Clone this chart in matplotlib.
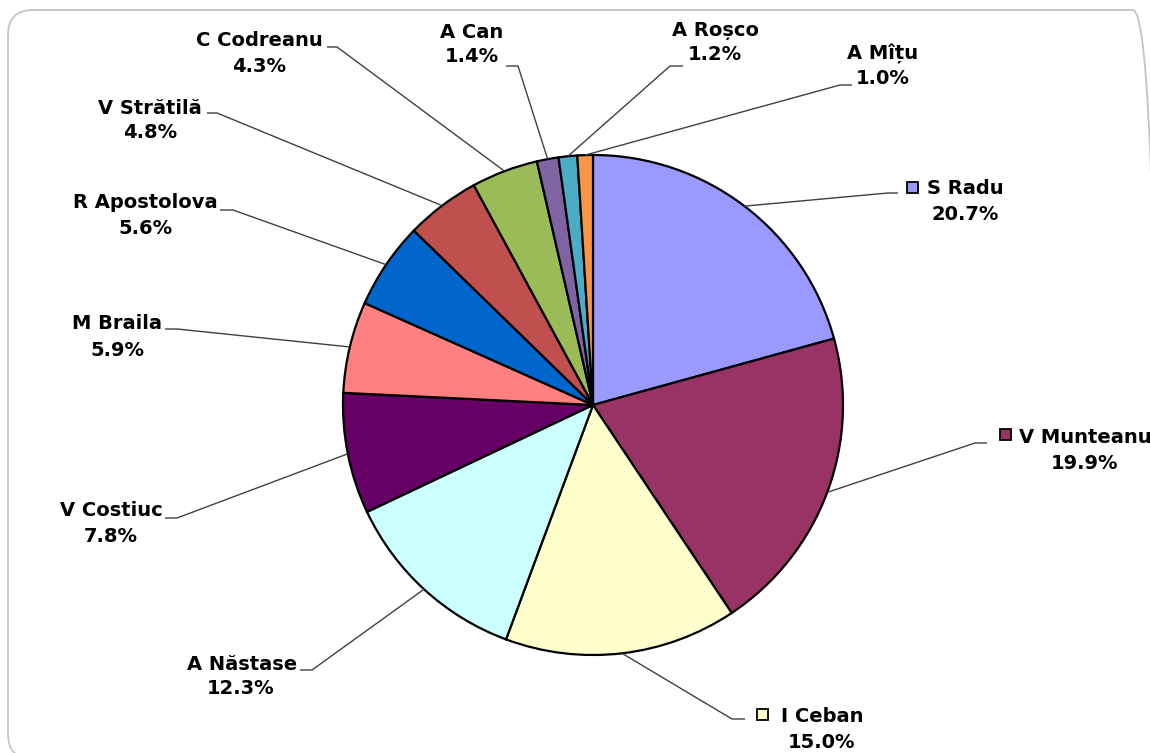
import matplotlib.pyplot as plt
import numpy as np
from matplotlib.patches import FancyBboxPatch, Rectangle

# data
names = ["S Radu", "V Munteanu", "I Ceban", "A Năstase", "V Costiuc", "M Braila",
         "R Apostolova", "V Strătilă", "C Codreanu", "A Can", "A Roșco", "A Mîțu"]
shares = [20.7, 19.9, 15.0, 12.3, 7.8, 5.9, 5.6, 4.8, 4.3, 1.4, 1.2, 1.0]
colors = ["#9999FF", "#993366", "#FFFFCC", "#CCFFFF", "#660066", "#FF8080",
          "#0066CC", "#C0504D", "#9BBB59", "#8064A2", "#4BACC6", "#F79646"]

# layout, in pixels from the top-left of the picture
W, H = 1150, 753
CX, CY, R = 593, 405, 250
name_pos = [(965, 188), (1085, 437), (822, 716), (242, 665), (111, 511), (117, 323),
            (145, 202), (150, 108), (259, 40), (472, 32), (715, 30), (883, 53)]
pct_pos = [(965, 214), (1085, 463), (822, 742), (241, 689), (111, 537), (117, 350),
           (146, 228), (150, 133), (259, 67), (472, 57), (715, 55), (883, 79)]
key_pos = {"S Radu": (912, 187), "V Munteanu": (1005, 434), "I Ceban": (762, 714)}
# (end near label, elbow x, y)
leader = [(898, 888, 193), (987, 975, 443), (745, 732, 719), (300, 312, 670),
          (165, 177, 518), (165, 177, 329), (220, 233, 210), (207, 217, 113),
          (327, 337, 47), (506, 518, 66), (683, 670, 66), (852, 840, 85)]


def px(x, y):
    return (x - CX) / R, (CY - y) / R


fig = plt.figure(figsize=(W / 100, H / 100), dpi=100)
ax = fig.add_axes([0, 0, 1, 1])

wedges, _ = ax.pie(shares, colors=colors, startangle=90, counterclock=False,
                   radius=1, center=(0, 0),
                   wedgeprops=dict(edgecolor="black", linewidth=1.6))
ax.set_xlim(-CX / R, (W - CX) / R)
ax.set_ylim(-(H - CY) / R, CY / R)
ax.set_aspect("equal")
ax.axis("off")

# chart frame (runs off the right and bottom of the picture)
x0, y0 = px(8, 10)
x1, y1 = px(1158, 759)
ax.add_patch(FancyBboxPatch((x0, y1), x1 - x0, y0 - y1,
                            boxstyle="round,pad=0,rounding_size=0.1",
                            fc="none", ec="#c4c4c4", lw=1.3, clip_on=False, zorder=0))

font = dict(fontsize=14, fontweight="bold", family="DejaVu Sans", color="black")
for i, w in enumerate(wedges):
    ang = np.deg2rad((w.theta1 + w.theta2) / 2)
    ax_, ay_ = np.cos(ang), np.sin(ang)
    ex, elx, ey = leader[i]
    p_end = px(ex, ey)
    p_elb = px(elx, ey)
    ax.plot([ax_, p_elb[0], p_end[0]], [ay_, p_elb[1], p_end[1]],
            color="#404040", lw=1.0, zorder=3, solid_capstyle="butt")
    nx, ny = px(*name_pos[i])
    ax.text(nx, ny, names[i], ha="center", va="center", **font)
    qx, qy = px(*pct_pos[i])
    ax.text(qx, qy, f"{shares[i]:.1f}%", ha="center", va="center", **font)
    if names[i] in key_pos:
        kx, ky = px(*key_pos[names[i]])
        s = 11 / R
        ax.add_patch(Rectangle((kx - s / 2, ky - s / 2), s, s, fc=colors[i],
                               ec="black", lw=1.3, zorder=4))

fig.savefig("out.png", dpi=100, facecolor="white")
